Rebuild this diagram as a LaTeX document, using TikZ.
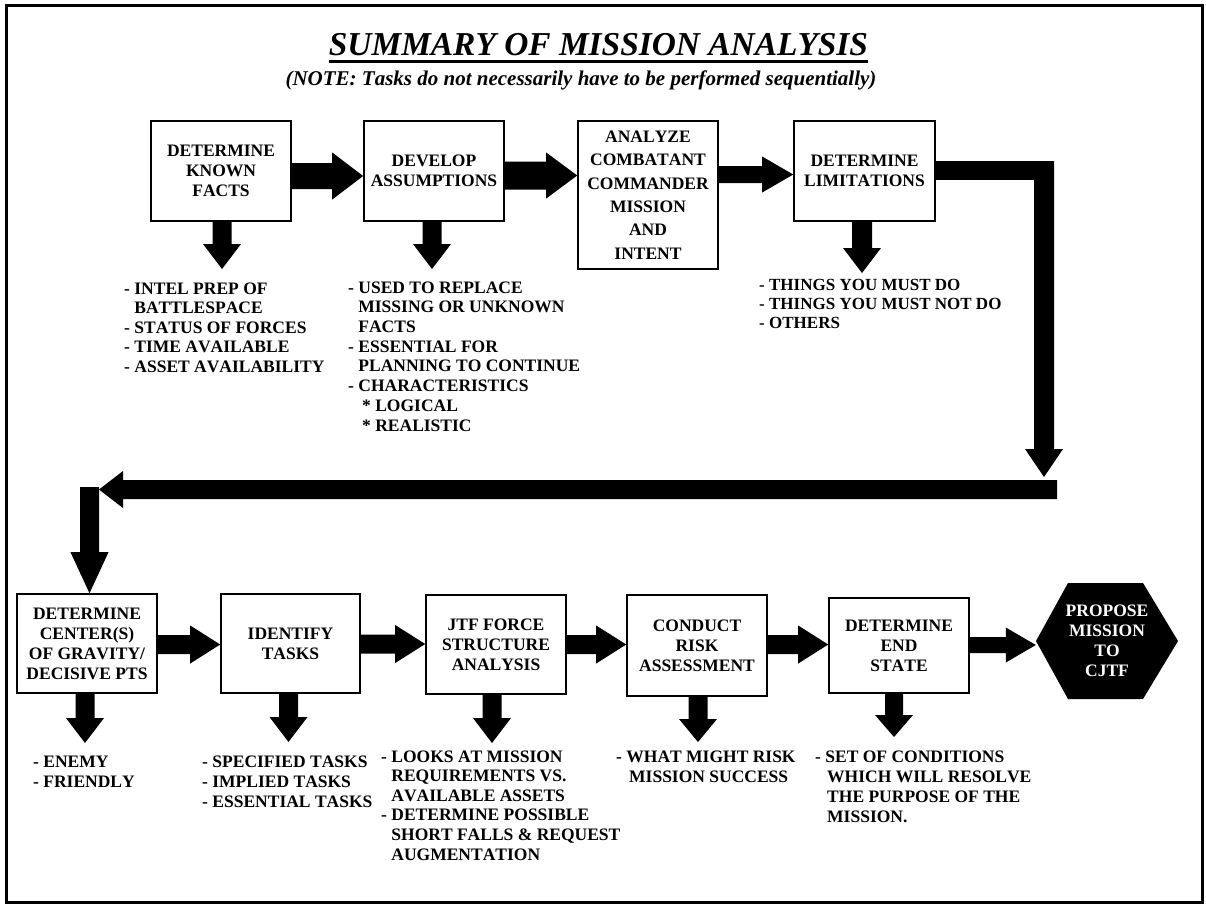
\documentclass[tikz,border=0pt]{standalone}
\usepackage{fontspec}
\setmainfont{Liberation Serif}[Kerning=Off]
\usetikzlibrary{calc}

% Block arrows: #1 start, #2 tip, #3 half shaft width, #4 half head width, #5 head length
\newcommand\blkright[5]{\fill let \p1=(#1), \p2=(#2) in
  (\x1,\y1+#3) -- (\x2-#5,\y1+#3) -- (\x2-#5,\y1+#4) -- (\x2,\y1) --
  (\x2-#5,\y1-#4) -- (\x2-#5,\y1-#3) -- (\x1,\y1-#3) -- cycle;}
\newcommand\blkleft[5]{\fill let \p1=(#1), \p2=(#2) in
  (\x1,\y1+#3) -- (\x2+#5,\y1+#3) -- (\x2+#5,\y1+#4) -- (\x2,\y1) --
  (\x2+#5,\y1-#4) -- (\x2+#5,\y1-#3) -- (\x1,\y1-#3) -- cycle;}
\newcommand\blkdown[5]{\fill let \p1=(#1), \p2=(#2) in
  (\x1-#3,\y1) -- (\x1-#3,\y2+#5) -- (\x1-#4,\y2+#5) -- (\x1,\y2) --
  (\x1+#4,\y2+#5) -- (\x1+#3,\y2+#5) -- (\x1+#3,\y1) -- cycle;}

\tikzset{
  box/.style={draw, line width=1.6pt, fill=white, inner sep=0pt, align=center,
    minimum width=140pt, minimum height=100pt,
    font=\fontsize{17.5}{20}\selectfont\bfseries},
  % lists are placed by the baseline of their last line
  list/.style={anchor=base west, align=left, inner sep=0pt,
    font=\fontsize{17.5}{19.5}\selectfont\bfseries},
  hexlabel/.style={inner sep=0pt, minimum width=142pt, minimum height=116pt,
    align=center, text=white, font=\fontsize{17.5}{20}\selectfont\bfseries},
}

\begin{document}
\begin{tikzpicture}[x=1pt,y=-1pt]
\useasboundingbox (0,0) rectangle (1206,906);
\draw[line width=3pt] (6,5) rectangle (1202.5,902);

% heading
\node[inner sep=0pt, anchor=base, font=\fontsize{33.4}{38}\selectfont\bfseries\itshape]
  (title) at (598.5,55) {SUMMARY OF MISSION ANALYSIS};
\draw[line width=3pt] ($(title.base west)+(0,6.5)$) -- ($(title.base east)+(0,6.5)$);
\node[inner sep=0pt, anchor=base, font=\fontsize{21}{24}\selectfont\bfseries\itshape]
  (note) at (581,85) {(NOTE: Tasks do not necessarily have to be performed sequentially)};

% first row of steps
\node[box] (b1) at (221,171) {DETERMINE\\KNOWN\\FACTS};
\node[box] (b2) at (434,171) {DEVELOP\\ASSUMPTIONS};
\node[box, minimum height=148pt, font=\fontsize{17.5}{23.4}\selectfont\bfseries]
  (b3) at (648,195) {ANALYZE\\COMBATANT\\COMMANDER\\MISSION\\AND\\INTENT};
\node[box, minimum width=141pt] (b4) at (864.5,171) {DETERMINE\\LIMITATIONS};

% second row of steps
\node[box, minimum height=99pt] (b5) at (87,643.5) {DETERMINE\\CENTER(S)\\OF GRAVITY/\\DECISIVE PTS};
\node[box, minimum width=139pt, minimum height=99pt] (b6) at (290.5,643.5) {IDENTIFY\\TASKS};
\node[box, minimum height=99pt] (b7) at (496,644.5) {JTF FORCE\\STRUCTURE\\ANALYSIS};
\node[box, minimum height=101pt] (b8) at (697,645.5) {CONDUCT\\RISK\\ASSESSMENT};
\node[box, minimum height=95pt] (b9) at (899,645.5) {DETERMINE\\END\\STATE};

% final step
\coordinate (hexc) at (1107,641);
\fill ($(hexc)+(-71,0)$) -- ($(hexc)+(-39,-58)$) -- ($(hexc)+(36,-58)$) --
  ($(hexc)+(71,0)$) -- ($(hexc)+(36,58)$) -- ($(hexc)+(-39,58)$) -- cycle;
\node[hexlabel] (hex) at (hexc) {PROPOSE\\MISSION\\TO\\CJTF};

% arrows between steps, first row
\blkright{$(b1.east)+(0,5)$}{b2.west}{13pt}{23.5pt}{31pt}
\blkright{$(b2.east)+(0,4.5)$}{b3.west}{14pt}{23pt}{31pt}
\blkright{$(b3.east)+(0,-20.5)$}{b4.west}{8.5pt}{18pt}{31pt}

% return path to the second row
\coordinate (elbow) at (1044,170.5);
\coordinate (elbowtip) at (1044,477);
\fill let \p1=(b4.east), \p2=(elbow) in (\x1,\y2+9.5pt) rectangle (\x2+10pt,\y2-9.5pt);
\blkdown{$(elbow)+(0,-9.5)$}{elbowtip}{10pt}{19pt}{28pt}
\coordinate (backR) at (1057,489.5);
\coordinate (backL) at (99,489.5);
\blkleft{backR}{backL}{9.5pt}{18.5pt}{24pt}
\coordinate (drop) at (89.5,487);
\blkdown{drop}{b5.north}{9.5pt}{19pt}{41pt}

% arrows between steps, second row
\blkright{$(b5.east)+(0,1)$}{b6.west}{9.5pt}{19pt}{30pt}
\blkright{$(b6.east)+(0,0.5)$}{b7.west}{9.5pt}{19pt}{30pt}
\blkright{b7.east}{b8.west}{9.5pt}{19pt}{30pt}
\blkright{$(b8.east)+(0,-1)$}{b9.west}{9.5pt}{19pt}{30pt}
\blkright{$(b9.east)+(0,-0.5)$}{hex.west}{8pt}{17.5pt}{30pt}

% detail arrows
\coordinate (t1) at (222,269);
\coordinate (t2) at (432,269);
\coordinate (t4) at (862,273);
\coordinate (t5) at (85,743);
\coordinate (t6) at (288.5,742);
\coordinate (t7) at (492,743);
\coordinate (t8) at (698,742);
\coordinate (t9) at (894,737);
\blkdown{$(b1.south)+(1,0)$}{t1}{9.5pt}{19pt}{25pt}
\blkdown{$(b2.south)+(-2,0)$}{t2}{9.5pt}{19pt}{25pt}
\blkdown{$(b4.south)+(-2.5,0)$}{t4}{10pt}{19pt}{25pt}
\blkdown{$(b5.south)+(-2,0)$}{t5}{9.5pt}{19pt}{25pt}
\blkdown{$(b6.south)+(-2,0)$}{t6}{9.5pt}{19pt}{25pt}
\blkdown{$(b7.south)+(-4,0)$}{t7}{9.5pt}{19pt}{25pt}
\blkdown{$(b8.south)+(1,0)$}{t8}{9.5pt}{19pt}{23pt}
\blkdown{$(b9.south)+(-5,0)$}{t9}{9pt}{19pt}{22pt}

% detail lists
\node[list] (l1) at (124,372) {- INTEL PREP OF\\\phantom{- }BATTLESPACE\\- STATUS OF FORCES\\- TIME AVAILABLE\\- ASSET AVAILABILITY};
\node[list, font=\fontsize{17.5}{19.7}\selectfont\bfseries] (l2) at (348,431)
  {- USED TO REPLACE\\\phantom{- }MISSING OR UNKNOWN\\\phantom{- }FACTS\\- ESSENTIAL FOR\\\phantom{- }PLANNING TO CONTINUE\\- CHARACTERISTICS\\\hspace*{14pt}* LOGICAL\\\hspace*{14pt}* REALISTIC};
\node[list, font=\fontsize{17}{19}\selectfont\bfseries] (l4) at (759,328) {- THINGS YOU MUST DO\\- THINGS YOU MUST NOT DO\\- OTHERS};
\node[list, font=\fontsize{17.5}{20}\selectfont\bfseries] (l5) at (33,787) {- ENEMY\\- FRIENDLY};
\node[list, font=\fontsize{17.5}{20}\selectfont\bfseries] (l6) at (202,807) {- SPECIFIED TASKS\\- IMPLIED TASKS\\- ESSENTIAL TASKS};
\node[list, font=\fontsize{17.5}{19.6}\selectfont\bfseries] (l7) at (381,860)
  {- LOOKS AT MISSION\\\phantom{- }REQUIREMENTS VS.\\\phantom{- }AVAILABLE ASSETS\\- DETERMINE POSSIBLE\\\phantom{- }SHORT FALLS \& REQUEST\\\phantom{- }AUGMENTATION};
\node[list, font=\fontsize{17.5}{19.6}\selectfont\bfseries] (l8) at (616,782) {- WHAT MIGHT RISK\\\hspace*{13pt}MISSION SUCCESS};
\node[list, font=\fontsize{17.5}{19.7}\selectfont\bfseries] (l9) at (815,822)
  {- SET OF CONDITIONS\\\hspace*{12pt}WHICH WILL RESOLVE\\\hspace*{12pt}THE PURPOSE OF THE\\\hspace*{12pt}MISSION.};
\end{tikzpicture}
\end{document}
